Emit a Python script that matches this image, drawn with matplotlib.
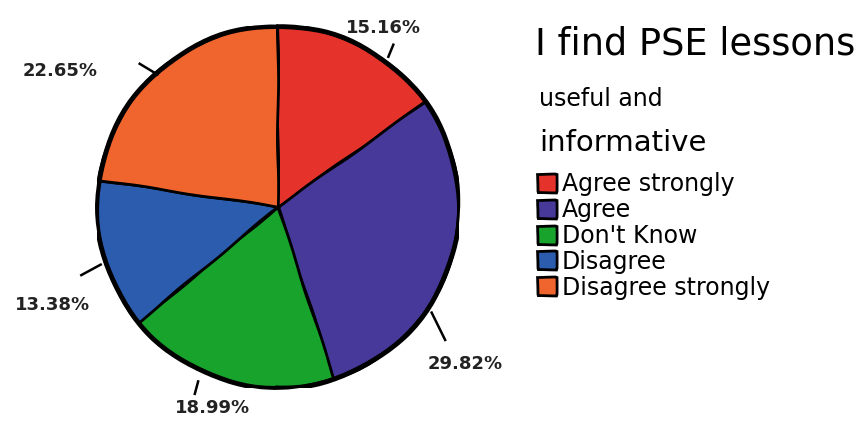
import numpy as np
import matplotlib
matplotlib.use("Agg")
import matplotlib.pyplot as plt

categories = ["Agree strongly", "Agree", "Don't Know", "Disagree", "Disagree strongly"]
percentages = [15.16, 29.82, 18.99, 13.38, 22.65]
colors = ["#e5332b", "#46399a", "#18a32c", "#2c5cae", "#f0652d"]

# label placement (angle in degrees, radius in pie units) for each slice label
label_angles = [59.5, -40.0, -108.0, 203.5, 148.0]
label_radii = [1.15, 1.35, 1.17, 1.36, 1.42]
# little hand-drawn ticks: (angle, radius) of both ends
ticks = [((54.6, 1.10), (53.7, 1.03)),
         ((-34.5, 1.03), (-38.5, 1.18)),
         ((-114.6, 1.06), (-114.0, 1.13)),
         ((199.1, 1.15), (198.0, 1.03)),
         ((134.0, 1.10), (132.3, 0.99))]

plt.rcParams["font.family"] = ["DejaVu Sans"]
fig = plt.figure(figsize=(8.64, 4.28), dpi=100)
ax = fig.add_axes([97 / 864, 40 / 428, 362 / 864, 362 / 428])

wedges, _ = ax.pie(percentages, colors=colors, startangle=90, counterclock=False,
                   wedgeprops=dict(edgecolor="black", linewidth=2.0))
for w in wedges:
    w.set_sketch_params(scale=0.6, length=120, randomness=2)

# thicker outline round the whole pie
circle = plt.Circle((0, 0), 1.0, fill=False, edgecolor="black", linewidth=3.5)
circle.set_sketch_params(scale=0.6, length=120, randomness=2)
ax.add_patch(circle)


def polar(a, r):
    t = np.deg2rad(a)
    return r * np.cos(t), r * np.sin(t)


for pct, a, r, (p0, p1) in zip(percentages, label_angles, label_radii, ticks):
    x, y = polar(a, r)
    ax.text(x, y, f"{pct:.2f}%", ha="center", va="center",
            fontsize=13, fontweight="bold", color="#222222")
    x0, y0 = polar(*p0)
    x1, y1 = polar(*p1)
    ax.plot([x0, x1], [y0, y1], color="black", linewidth=1.8, clip_on=False)

ax.set_xlim(-1, 1)
ax.set_ylim(-1, 1)
ax.set_aspect("equal")
ax.axis("off")

fig.text(535 / 864, 1 - 44 / 428, "I find PSE lessons", fontsize=26.5, ha="left", va="center")
fig.text(539 / 864, 1 - 99 / 428, "useful and", fontsize=17, ha="left", va="center")
fig.text(539 / 864, 1 - 143 / 428, "informative", fontsize=21, ha="left", va="center")

fig.legend(wedges, categories, loc="upper left", bbox_to_anchor=(537 / 864, 1 - 172 / 428),
           frameon=False, fontsize=17, handlelength=0.8, handleheight=0.8,
           handletextpad=0.25, labelspacing=0.08, borderaxespad=0, borderpad=0)

fig.savefig("out.png", dpi=100)
